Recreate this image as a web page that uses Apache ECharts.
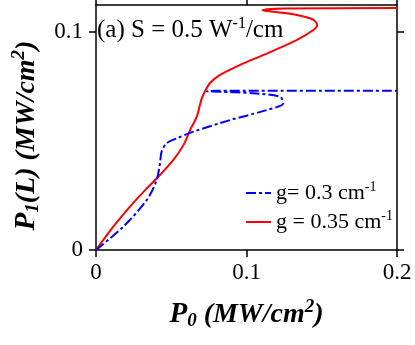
<!DOCTYPE html>
<html>
<head>
<meta charset="utf-8">
<script src="https://cdn.jsdelivr.net/npm/echarts@6/dist/echarts.min.js"></script>
<style>
  html, body { margin: 0; padding: 0; background: #fff; }
  #main { width: 415px; height: 345px; }
</style>
</head>
<body>
<div id="main"></div>
<script>
  // g = 0.35 cm-1 (red, solid) : [P0, P1(L)]
  const redCurve = [
    [0, 0], [0.0115, 0.0107], [0.0226, 0.0199], [0.032, 0.027], [0.0414, 0.0336],
    [0.0514, 0.0413], [0.058, 0.048], [0.0625, 0.055], [0.0669, 0.0611], [0.07, 0.069],
    [0.0722, 0.0725], [0.0758, 0.0766], [0.0824, 0.0803], [0.0957, 0.0849], [0.111, 0.0894],
    [0.1333, 0.0963], [0.1444, 0.1009], [0.147, 0.1032], [0.1455, 0.105], [0.1422, 0.1063],
    [0.135, 0.1076], [0.1267, 0.1086], [0.1105, 0.11], [0.125, 0.1108], [0.2, 0.111]
  ]
  // g = 0.3 cm-1 (blue, dash-dot)
  const blueCurve = [
    [0, 0], [0.0181, 0.0107], [0.0337, 0.0229], [0.0403, 0.0321], [0.0425, 0.0398],
    [0.0436, 0.0451], [0.047, 0.049], [0.0536, 0.0512], [0.0647, 0.0543], [0.089, 0.0596],
    [0.1134, 0.0642], [0.1245, 0.0673], [0.1223, 0.0703], [0.1045, 0.0719], [0.0824, 0.0726],
    [0.0735, 0.0728], [0.08, 0.0731], [0.2, 0.0731]
  ]
  const xTicks = [0, 0.1, 0.2]
  const yTicks = [0, 0.1]

  const serif = 'Liberation Serif'
  const chart = echarts.init(document.getElementById('main'))

  const axisCommon = {
    axisLine: { show: true, onZero: false, lineStyle: { color: '#000', width: 1.5 } },
    axisTick: { show: true, inside: false, length: 7, lineStyle: { color: '#000', width: 1.5 } },
    splitLine: { show: false }
  }
  const titleStyle = (size) => ({ fontFamily: serif, fontSize: size, fontWeight: 'bold', fontStyle: 'italic', color: '#000' })
  const titleRich = {
    p: titleStyle(29),
    sub: { ...titleStyle(19), padding: [14, 0, 0, 0] },
    u: titleStyle(28),
    su: { ...titleStyle(19), padding: [0, 0, 14, 0] }
  }

  chart.setOption({
    animation: false,
    grid: { left: 96, right: 18, top: 5, bottom: 95 },
    legend: {
      orient: 'vertical',
      left: 240,
      top: 175,
      itemWidth: 25,
      itemHeight: 10,
      itemGap: 5,
      itemStyle: { opacity: 0 },
      data: ['g03', 'g035'],
      formatter: (name) => name === 'g03' ? '{t|g= 0.3 cm}{s|-1}' : '{t|g = 0.35 cm}{s|-1}',
      textStyle: {
        fontFamily: serif, fontSize: 22, color: '#000',
        rich: {
          t: { fontFamily: serif, fontSize: 22, color: '#000' },
          s: { fontFamily: serif, fontSize: 14, color: '#000', padding: [0, 0, 12, 0] }
        }
      }
    },
    xAxis: [
      {
        ...axisCommon,
        type: 'value', min: 0, max: 0.2, interval: 0.1,
        axisTick: { ...axisCommon.axisTick, customValues: xTicks },
        axisLabel: {
          customValues: xTicks, margin: 11, color: '#000', fontFamily: serif, fontSize: 23,
          formatter: (v) => (v === 0 ? '0' : String(v))
        },
        name: '{p|P}{sub|0}{u| (MW/cm}{su|2}{u|)}',
        nameLocation: 'middle',
        nameGap: 48,
        nameTextStyle: { rich: titleRich }
      },
      {
        ...axisCommon,
        type: 'value', position: 'top', min: 0, max: 0.2, interval: 0.1,
        axisTick: { ...axisCommon.axisTick, customValues: xTicks },
        axisLabel: { show: false }
      }
    ],
    yAxis: [
      {
        ...axisCommon,
        type: 'value', min: 0, max: 0.1124, interval: 0.1,
        axisTick: { ...axisCommon.axisTick, customValues: yTicks },
        axisLabel: {
          customValues: yTicks, margin: 13, color: '#000', fontFamily: serif, fontSize: 23,
          formatter: (v) => (v === 0 ? '0' : String(v))
        },
        name: '{p|P}{sub|1}{u|(L) (MW/cm}{su|2}{u|)}',
        nameLocation: 'middle',
        nameRotate: 90,
        nameGap: 53,
        nameTextStyle: { rich: titleRich, padding: [0, 16, 0, 0] }
      },
      {
        ...axisCommon,
        type: 'value', position: 'right', min: 0, max: 0.1124, interval: 0.1,
        axisTick: { ...axisCommon.axisTick, customValues: yTicks },
        axisLabel: { show: false }
      }
    ],
    graphic: [
      {
        type: 'text',
        left: 97,
        top: 16,
        z: 10,
        style: {
          text: '{t|(a) S = 0.5 W}{s|-1}{t|/cm}',
          rich: {
            t: { fontFamily: serif, fontSize: 25, fill: '#000' },
            s: { fontFamily: serif, fontSize: 16, fill: '#000', padding: [0, 0, 12, 0] }
          }
        }
      }
    ],
    series: [
      {
        name: 'g03',
        type: 'line',
        xAxisIndex: 0,
        yAxisIndex: 0,
        data: blueCurve,
        symbol: 'none',
        smooth: 0.3,
        lineStyle: { color: '#0000ff', width: 2, type: [10, 3, 3, 3] },
        itemStyle: { color: '#0000ff' },
        z: 3
      },
      {
        name: 'g035',
        type: 'line',
        xAxisIndex: 0,
        yAxisIndex: 0,
        data: redCurve,
        symbol: 'none',
        smooth: 0.3,
        lineStyle: { color: '#ff0000', width: 2 },
        itemStyle: { color: '#ff0000' },
        z: 2
      }
    ]
  })
</script>
</body>
</html>
